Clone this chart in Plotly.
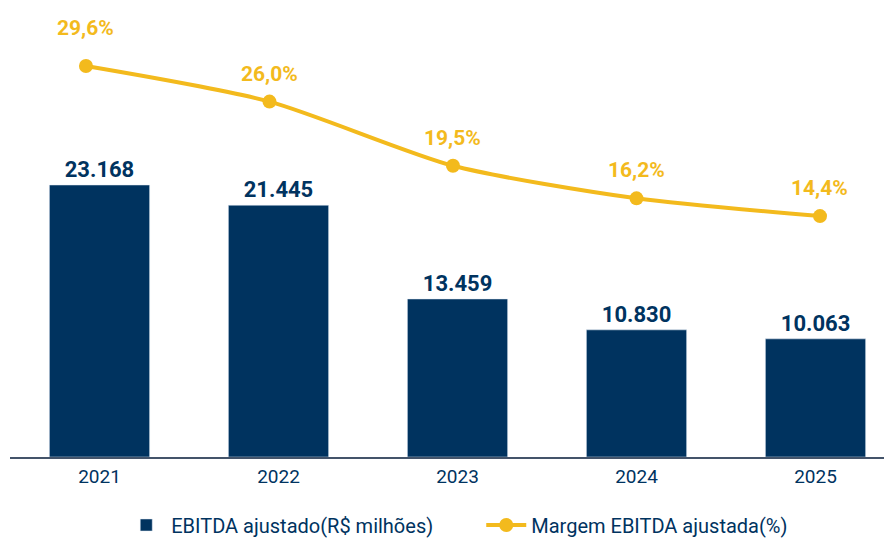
import plotly.graph_objects as go

anos = ['2021', '2022', '2023', '2024', '2025']
ebitda = [23168, 21445, 13459, 10830, 10063]
margem = [29.6, 26.0, 19.5, 16.2, 14.4]

ebitda_txt = [f'{v:,}'.replace(',', '.') for v in ebitda]
margem_txt = [f'{v:.1f}%'.replace('.', ',') for v in margem]

azul = '#00335F'
amarelo = '#F3BA1D'

fig = go.Figure()
fig.add_trace(go.Bar(
    x=anos, y=ebitda, name='EBITDA ajustado(R$ milhões)',
    marker_color=azul, width=0.56,
    text=ebitda_txt, textposition='outside', cliponaxis=False,
    textfont=dict(family='Roboto', size=22, color=azul, weight='bold'),
))
fig.add_trace(go.Scatter(
    x=list(range(len(anos))), y=margem, name='Margem EBITDA ajustada(%)',
    xaxis='x2', yaxis='y2', mode='lines+markers',
    line=dict(color=amarelo, width=4, shape='spline', smoothing=0.7),
    marker=dict(size=14, color=amarelo), cliponaxis=False,
))

# rótulos da margem acima dos pontos (o primeiro fica mais alto)
for i, (v, t) in enumerate(zip(margem, margem_txt)):
    fig.add_annotation(x=i, y=v, xref='x2', yref='y2', text=f'<b>{t}</b>', showarrow=False,
                       yshift=38 if i == 0 else 28,
                       font=dict(family='Roboto', size=21, color=amarelo))

fig.update_layout(
    width=892, height=539,
    margin=dict(l=2, r=0, t=0, b=90, autoexpand=False),
    plot_bgcolor='white', paper_bgcolor='white',
    bargap=0.44,
    showlegend=True,
    legend=dict(orientation='h', x=0.125, xanchor='left', y=-0.108, yanchor='top',
                font=dict(family='Roboto', size=20, color=azul), entrywidth=305, itemwidth=40),
    xaxis=dict(range=[-0.5, 4.472], showline=True, linecolor='#44546A', linewidth=1.5,
               ticks='outside', ticklen=1, tickcolor='rgba(0,0,0,0)',
               tickfont=dict(family='Roboto', size=19, color=azul), showgrid=False),
    yaxis=dict(range=[0, 38245], visible=False, showgrid=False),
    xaxis2=dict(range=[-0.414, 4.436], overlaying='x', visible=False),
    yaxis2=dict(range=[-10, 35.48], overlaying='y', visible=False),
)

fig.write_html('out.html')
